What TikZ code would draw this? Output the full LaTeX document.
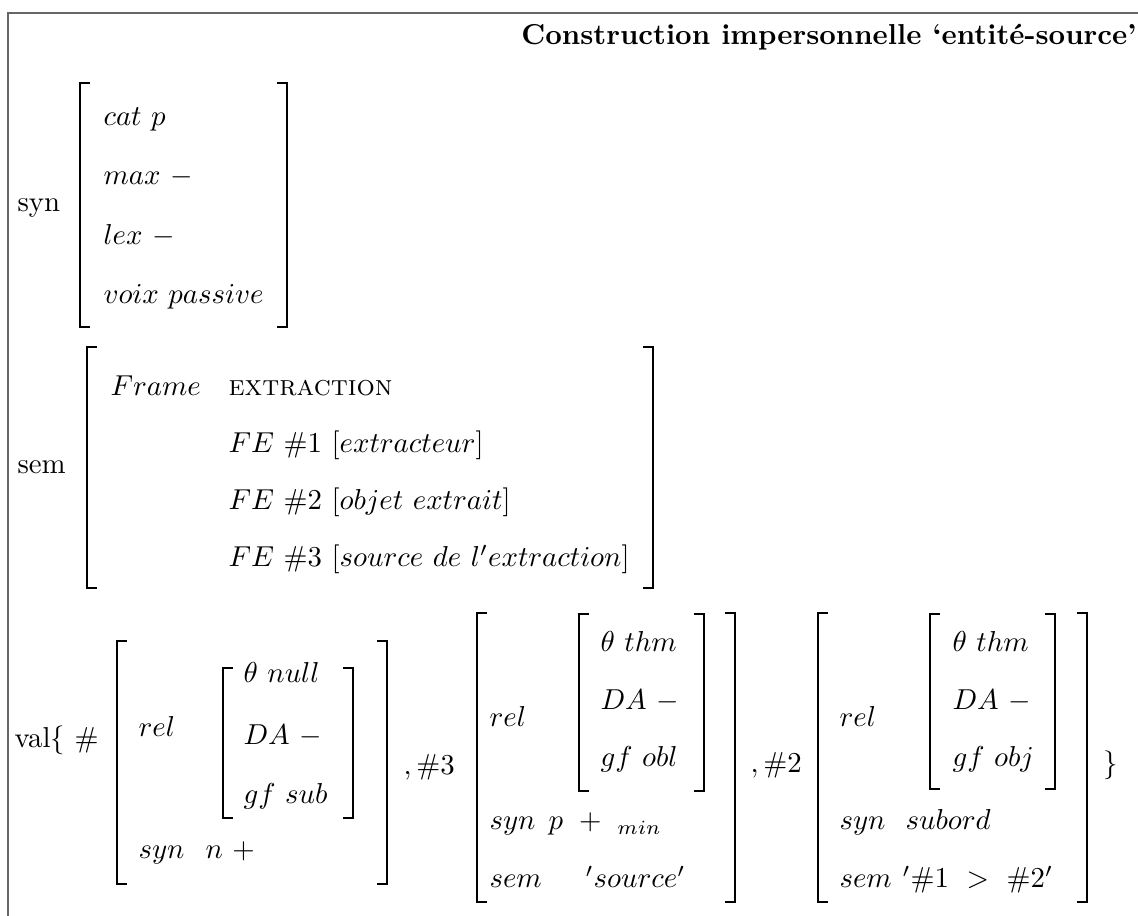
\documentclass[tikz,border=0pt]{standalone}
\begin{document}
\begin{tikzpicture}[x=0.347pt, y=-0.347pt, txt/.style = {anchor=base west, inner sep=0pt}, brk/.style = {line width=0.65pt}]
\useasboundingbox (0,0) rectangle (1138,916);
\draw[black!60, line width=0.7pt] (1138,13) -| (8,916);
\node[anchor=base east, inner sep=0pt] (title) at (1137,45) {\bfseries Construction impersonnelle ‘entité-source’};

% syn
\node[txt] (syn) at (17,212) {syn};
\node[txt] (cat) at (103,126) {$cat\ p$};
\node[txt] (max) at (103,185) {$max\ -$};
\node[txt] (lex) at (103,245) {$lex\ -$};
\node[txt] (voix) at (103,304) {$voix\ passive$};

% sem
\node[txt] (sem) at (17,474) {sem};
\node[txt] (frame) at (110,396) {$Frame$};
\node[txt] (extr) at (228,396) {\textsc{extraction}};
\node[txt] (fe1) at (228,453) {$FE\ \#1\ [extracteur]$};
\node[txt] (fe2) at (228,510) {$FE\ \#2\ [objet\ extrait]$};
\node[txt] (fe3) at (228,567) {$FE\ \#3\ [source\ de\ l'extraction]$};

% val, first argument
\node[txt] (val) at (14,748) {val$\{\ \#$};
\node[txt] (rel1) at (138,737) {$rel$};
\node[txt] (th1) at (243,683) {$\theta\ null$};
\node[txt] (da1) at (243,745) {$DA\ -$};
\node[txt] (gf1) at (243,804) {$gf\ sub$};
\node[txt] (syn1) at (138,859) {$syn$};
\node[txt] (n1) at (205,859) {$n\ +$};

% #3
\node[txt] (arg3) at (403,775) {$,\#3$};
\node[txt] (rel3) at (489,727) {$rel$};
\node[txt] (th3) at (600,652) {$\theta\ thm$};
\node[txt] (da3) at (600,710) {$DA\ -$};
\node[txt] (gf3) at (600,767) {$gf\ obl$};
\node[txt] (syn3) at (489,830) {$syn$};
\node[txt] (p3) at (548,830) {$p\ +\ {}_{min}$};
\node[txt] (sem3) at (489,888) {$sem$};
\node[txt] (src3) at (585,888) {$'source'$};

% #2
\node[txt] (arg2) at (750,773) {$,\#2$};
\node[txt] (rel2) at (839,727) {$rel$};
\node[txt] (th2) at (952,652) {$\theta\ thm$};
\node[txt] (da2) at (952,710) {$DA\ -$};
\node[txt] (gf2) at (952,767) {$gf\ obj$};
\node[txt] (syn2) at (839,830) {$syn$};
\node[txt] (sub2) at (905,830) {$subord$};
\node[txt] (sem2) at (839,888) {$sem$};
\node[txt] (ord2) at (902,888) {$'\#1\ >\ \#2'$};
\node[txt] (close) at (1103,773) {$\}$};

% brackets: left x / right x / top / bottom
\foreach \l/\r/\t/\b in {80/287/83/327, 87/653/347/588,
    117/387/641/884, 223/353/668/818,
    477/735/613/902, 579/704/614/791,
    818/1087/613/902, 930/1055/614/789} {
  \draw[brk] (\l+10,\t) -- (\l,\t) -- (\l,\b) -- (\l+10,\b);
  \draw[brk] (\r-10,\t) -- (\r,\t) -- (\r,\b) -- (\r-10,\b);
}
\end{tikzpicture}
\end{document}
